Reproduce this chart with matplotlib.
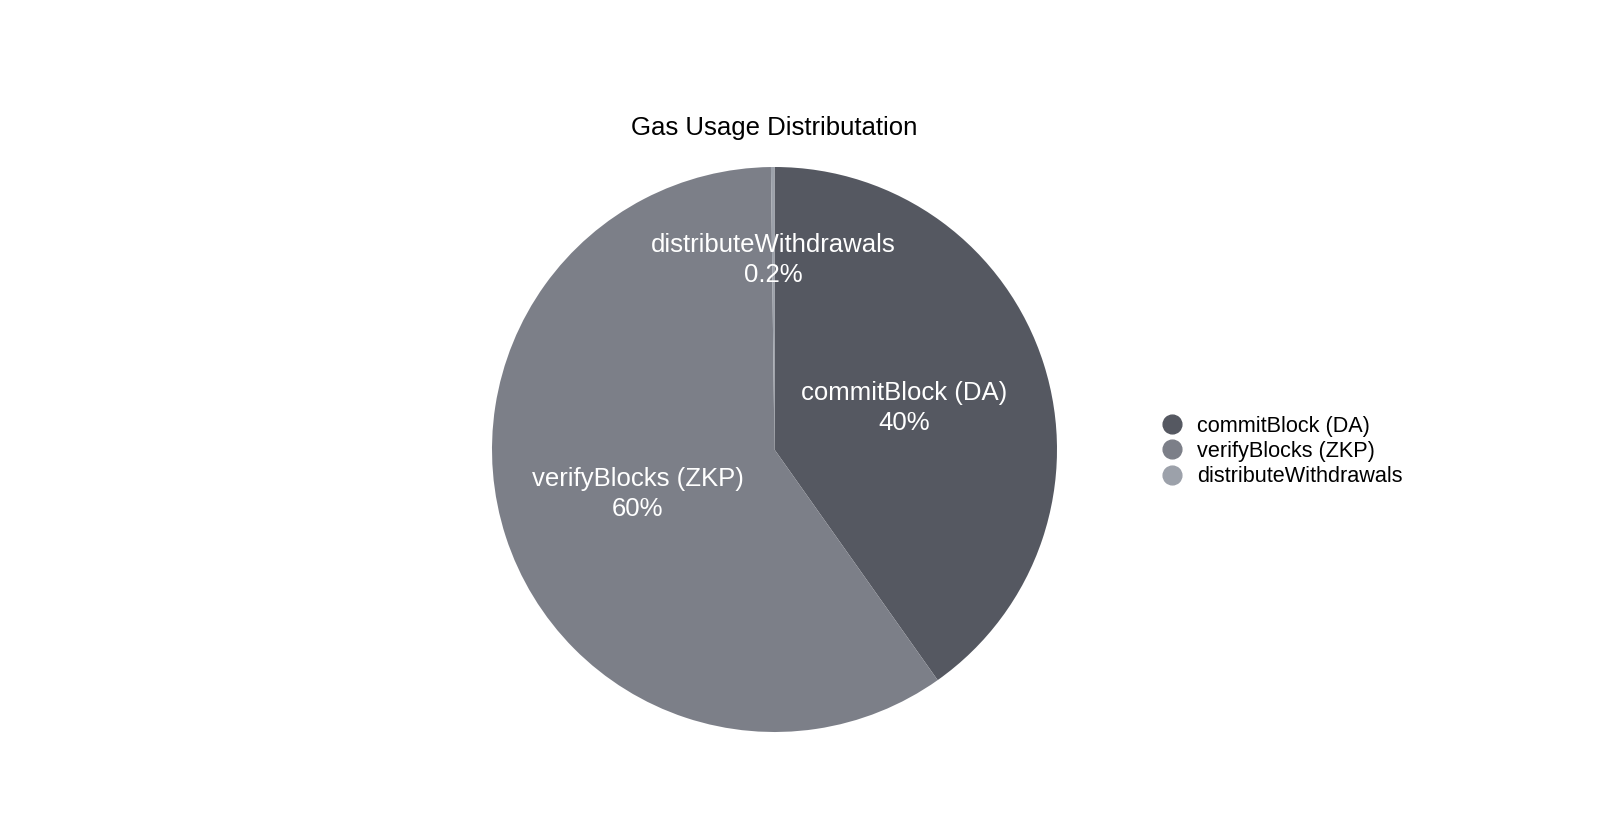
import matplotlib
matplotlib.use("Agg")
import matplotlib.pyplot as plt
from matplotlib.lines import Line2D
import numpy as np

plt.rcParams['font.family'] = ['Liberation Sans', 'DejaVu Sans']

title = "Gas Usage Distributation"
categories = ["commitBlock (DA)", "verifyBlocks (ZKP)", "distributeWithdrawals"]
values = [40.2, 59.6, 0.2]
colors = ["#555861", "#7c7f88", "#9ca1aa"]
label_radius = [0.48, 0.51, 0.67]

W, H = 1600, 834
fig = plt.figure(figsize=(W / 100, H / 100), dpi=100)
ax = fig.add_axes([0, 0, 1, 1])

cx, cy, R = 774.5, H - 449.5, 282.5
wedges, _ = ax.pie(values, colors=colors, startangle=90, counterclock=False,
                   center=(cx, cy), radius=R, frame=True,
                   wedgeprops=dict(linewidth=0))
ax.set_xlim(0, W)
ax.set_ylim(0, H)
ax.set_aspect('equal')
ax.axis('off')

total = sum(values)
for w, name, v, fr in zip(wedges, categories, values, label_radius):
    ang = np.deg2rad((w.theta1 + w.theta2) / 2)
    x = cx + fr * R * np.cos(ang)
    y = cy + fr * R * np.sin(ang)
    pct = 100 * v / total
    pct_s = f"{pct:.0f}%" if pct >= 1 else f"{pct:.1f}%"
    ax.text(x, y, f"{name}\n{pct_s}", ha='center', va='center', color='white',
            fontsize=18.5, linespacing=1.32)

fig.text(cx / W, 1 - 128 / H, title, ha='center', va='center', fontsize=18.5, color='black')

handles = [Line2D([0], [0], marker='o', linestyle='none', markersize=13.5,
                  markerfacecolor=c, markeredgecolor=c) for c in colors]
fig.legend(handles, categories, loc='center left', bbox_to_anchor=(1161 / W, 1 - 451.5 / H),
           frameon=False, fontsize=15.6, handlelength=1.0, handletextpad=0.65,
           labelspacing=0.2, borderpad=0, borderaxespad=0)

fig.savefig("out.png", dpi=100)
